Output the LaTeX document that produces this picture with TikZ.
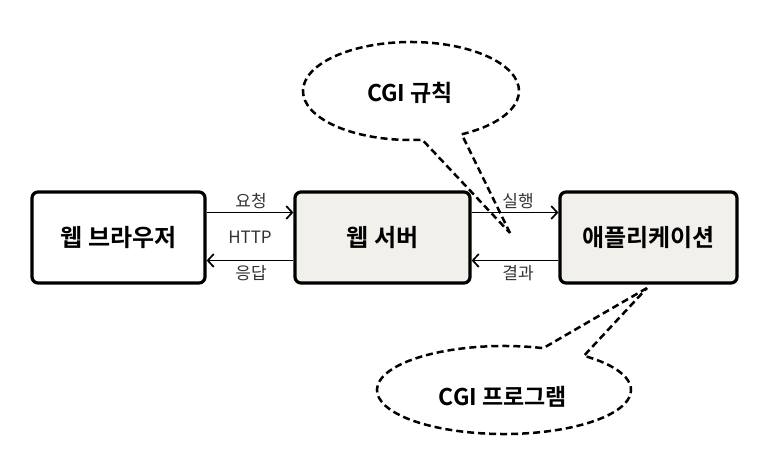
\documentclass[tikz,border=0pt]{standalone}
\usepackage{fontspec}
\setmainfont{Noto Sans CJK KR}[BoldFont={Noto Sans CJK KR Bold}]
\usetikzlibrary{arrows.meta,positioning,calc}
\definecolor{boxfill}{RGB}{242,240,234}

\begin{document}
\begin{tikzpicture}[x=1pt,y=1pt,
    box/.style={draw,line width=3.2pt,rounded corners=6pt,minimum width=173pt,minimum height=91pt,font=\bfseries\fontsize{24}{28}\selectfont},
    link/.style={line width=1.7pt,-{Straight Barb[length=6pt,width=13pt,line width=1.7pt]}},
    tag/.style={font=\fontsize{17}{20}\selectfont,text=black!80},
    callout/.style={dashed,line width=2.5pt,dash pattern=on 7pt off 4pt,line join=round},
    calltext/.style={font=\bfseries\fontsize{23}{27}\selectfont}]

  \useasboundingbox (0,0) rectangle (766,475);

  % Main boxes
  \node[box] (browser) at (118.5,237.5) {웹 브라우저};
  \node[box,fill=boxfill,minimum width=175pt] (server) at (382.5,237.5) {웹 서버};
  \node[box,fill=boxfill,minimum width=177pt] (app) at (648.5,237.5) {애플리케이션};

  % Request / response arrows
  \draw[link] ([yshift=25pt]browser.east) -- ([yshift=25pt]server.west);
  \draw[link] ([yshift=-23pt]server.west) -- ([yshift=-23pt]browser.east);
  \draw[link] ([yshift=25pt]server.east) -- ([yshift=25pt]app.west);
  \draw[link] ([yshift=-23pt]app.west) -- ([yshift=-23pt]server.east);

  % Arrow labels
  \node[tag] (req) at (251,274) {요청};
  \node[tag] (http) at (250,238) {HTTP};
  \node[tag] (resp) at (251,202) {응답};
  \node[tag] (run) at (518,274) {실행};
  \node[tag] (res) at (518,202) {결과};

  % Callout: CGI rules
  \coordinate (rulecenter) at (411,384);
  \coordinate (ruletip) at (510,242);
  \draw[callout] (ruletip) -- ($(rulecenter)+(-62:108pt and 49pt)$)
    arc[start angle=-62,end angle=276,x radius=108pt,y radius=49pt] -- (ruletip);
  \node[calltext] (rules) at (410,382) {CGI 규칙};

  % Callout: CGI program
  \coordinate (progcenter) at (504,85);
  \coordinate (progtip) at (647,187);
  \draw[callout] (progtip) -- ($(progcenter)+(72:127pt and 44pt)$)
    arc[start angle=72,end angle=411,x radius=127pt,y radius=44pt] -- (progtip);
  \node[calltext] (prog) at (503,78) {CGI 프로그램};

\end{tikzpicture}
\end{document}
